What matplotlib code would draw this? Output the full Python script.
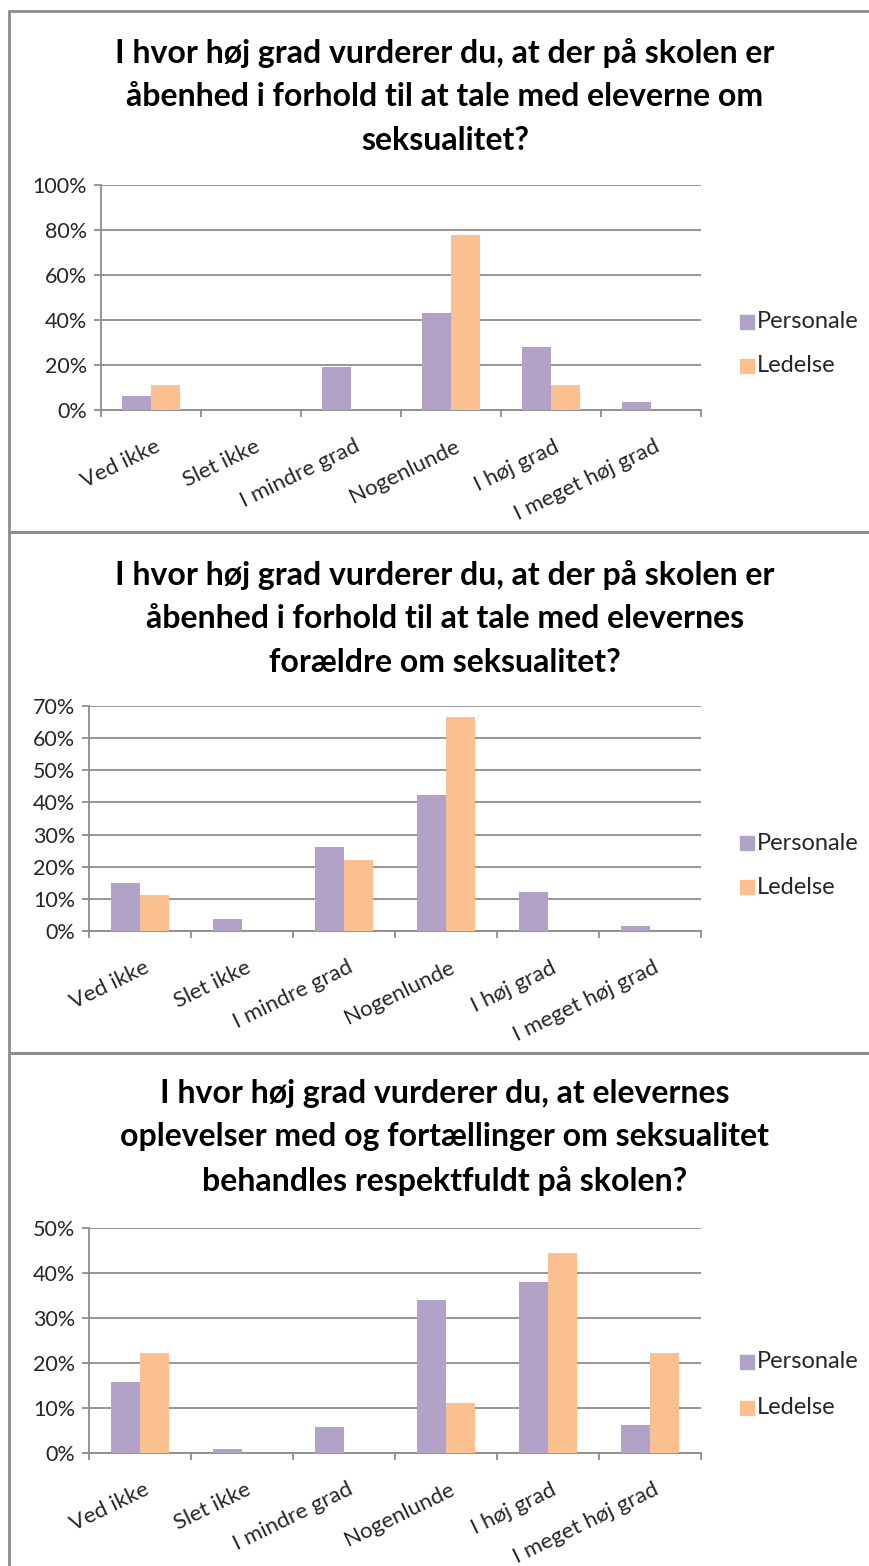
import matplotlib
matplotlib.use('Agg')
import matplotlib.pyplot as plt
import numpy as np
from matplotlib.patches import Rectangle

plt.rcParams['font.family'] = ['Lato', 'DejaVu Sans']

categories = ['Ved ikke', 'Slet ikke', 'I mindre grad', 'Nogenlunde', 'I høj grad', 'I meget høj grad']
series_names = ['Personale', 'Ledelse']

titles = [
    'I hvor høj grad vurderer du, at der på skolen er\nåbenhed i forhold til at tale med eleverne om\nseksualitet?',
    'I hvor høj grad vurderer du, at der på skolen er\nåbenhed i forhold til at tale med elevernes\nforældre om seksualitet?',
    'I hvor høj grad vurderer du, at elevernes\noplevelser med og fortællinger om seksualitet\nbehandles respektfuldt på skolen?',
]

personale_1 = [6.2, 0, 19.1, 43.0, 28.0, 3.7]
ledelse_1 = [11.1, 0, 0, 77.8, 11.1, 0]

personale_2 = [15.0, 3.7, 26.2, 42.2, 12.1, 1.5]
ledelse_2 = [11.1, 0, 22.2, 66.7, 0, 0]

personale_3 = [15.7, 1.0, 5.8, 33.9, 38.1, 6.3]
ledelse_3 = [22.2, 0, 0, 11.1, 44.4, 22.2]

y_max = [100, 70, 50]
y_step = [20, 10, 10]

purple = '#B3A2C7'
orange = '#FAC090'
grid_gray = '#8C8C8C'
text_col = '#262626'

W, H = 869, 1566
fig = plt.figure(figsize=(W / 100, H / 100), dpi=100)


def box(left, top, right, bottom):
    return [left / W, 1 - bottom / H, (right - left) / W, (bottom - top) / H]


# panel frames
for top, bottom in [(11, 532), (532, 1053), (1053, 1600)]:
    fig.patches.append(Rectangle((9 / W, 1 - bottom / H), (900 - 9) / W, (bottom - top) / H,
                                 transform=fig.transFigure, fill=False,
                                 edgecolor='#8C8C8C', linewidth=2))

panels = [
    dict(ax=(101, 185, 701, 410), title_y=55, leg_y=(322, 366), data=(personale_1, ledelse_1)),
    dict(ax=(89, 706, 701, 931), title_y=577, leg_y=(843, 887), data=(personale_2, ledelse_2)),
    dict(ax=(89, 1228, 701, 1453), title_y=1096, leg_y=(1362, 1408), data=(personale_3, ledelse_3)),
]

x = np.arange(len(categories))
bw = 1 / 3.5

for i, p in enumerate(panels):
    ax = fig.add_axes(box(*p['ax']))
    pers, led = p['data']
    ax.bar(x - bw / 2, pers, bw, color=purple, zorder=3)
    ax.bar(x + bw / 2, led, bw, color=orange, zorder=3)

    ax.set_xlim(-0.5, len(categories) - 0.5)
    ax.set_ylim(0, y_max[i])
    ticks = np.arange(0, y_max[i] + 1, y_step[i])
    ax.set_yticks(ticks)
    ax.set_yticklabels([f'{t}%' for t in ticks], fontsize=15.5, color=text_col)
    ax.yaxis.grid(True, color=grid_gray, linewidth=1.3, zorder=0)

    ax.set_xticks(np.arange(-0.5, len(categories), 1))
    ax.set_xticklabels([])
    ax.set_xticks(x + 0.03, minor=True)
    ax.set_xticklabels(categories, minor=True, rotation=26, ha='right', va='top',
                       rotation_mode='anchor', fontsize=16, color=text_col)
    ax.tick_params(axis='x', which='minor', length=0, pad=19)
    ax.tick_params(axis='x', which='major', length=5, color=grid_gray, width=1.3)
    ax.tick_params(axis='y', length=5, color=grid_gray, width=1.3, pad=5)
    for s in ['top', 'right']:
        ax.spines[s].set_visible(False)
    for s in ['left', 'bottom']:
        ax.spines[s].set_color(grid_gray)
        ax.spines[s].set_linewidth(1.3)

    fig.text(445 / W, 1 - (p['title_y'] - 17) / H, titles[i], ha='center', va='top',
             fontsize=23, fontweight='bold', linespacing=1.6)

    for name, col, ly in zip(series_names, [purple, orange], p['leg_y']):
        fig.patches.append(Rectangle((740 / W, 1 - (ly + 7) / H), 14 / W, 14 / H,
                                     transform=fig.transFigure, color=col))
        fig.text(757 / W, 1 - ly / H, name, ha='left', va='center', fontsize=17, color=text_col)

fig.savefig('out.png', dpi=100)
